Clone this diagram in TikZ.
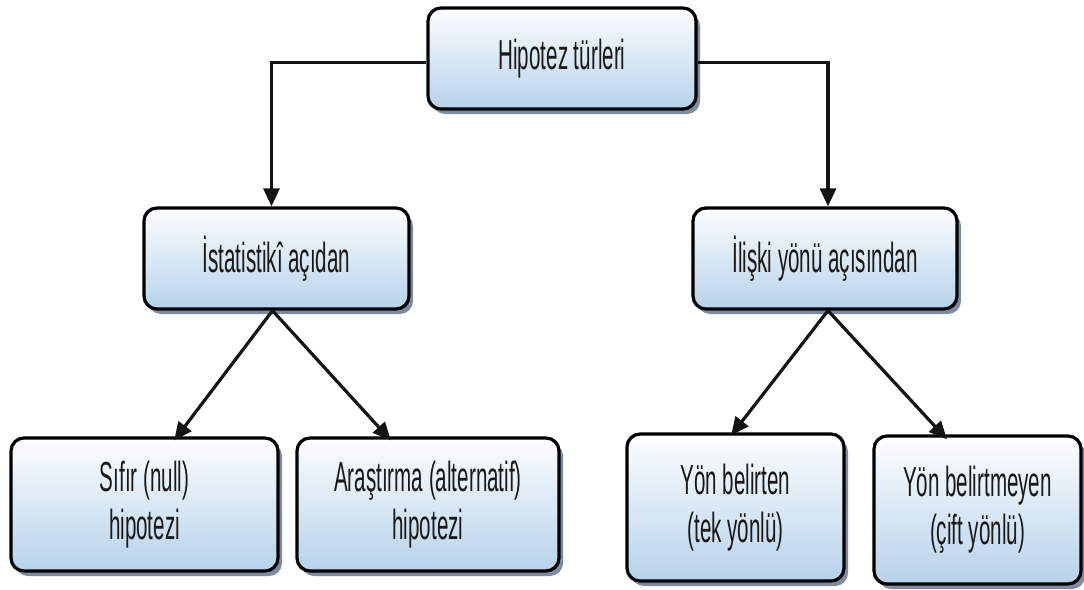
\documentclass[tikz,border=0pt]{standalone}
\usepackage{fontspec}
\setmainfont{Liberation Sans}[FakeStretch=0.49]
\usetikzlibrary{arrows.meta,shadows,calc}

\definecolor{boxtop}{RGB}{253,254,255}
\definecolor{boxbottom}{RGB}{182,210,234}
\definecolor{shadowcol}{RGB}{112,126,150}
\definecolor{textcol}{RGB}{25,25,25}

\begin{document}
\begin{tikzpicture}[x=1pt,y=-1pt,
  hbox/.style={draw=black, line width=3.2pt, rounded corners=13pt,
    top color=boxtop, bottom color=boxbottom,
    drop shadow={shadow xshift=4pt, shadow yshift=-5pt, fill=shadowcol, opacity=0.9},
    text=textcol, align=center, inner sep=0pt,
    font=\fontsize{42}{48}\selectfont},
  link/.style={draw=black!92, line width=3.2pt,
    -{Triangle[length=18pt,width=16pt]}}
]
\useasboundingbox (0,0) rectangle (1084,589);

% boxes (centre, width, height)
\node[hbox, minimum width=268pt, minimum height=101pt] (top) at (562,58.5) {Hipotez türleri};
\node[hbox, minimum width=265pt, minimum height=101pt] (ist) at (276.5,258.5) {İstatistikî açıdan};
\node[hbox, minimum width=264pt, minimum height=101pt] (ili) at (825,258.5) {İlişki yönü açısından};
\node[hbox, minimum width=267pt, minimum height=133pt] (sif) at (144.5,504.5) {Sıfır (null)\\hipotezi};
\node[hbox, minimum width=262pt, minimum height=133pt] (ara) at (428,504.5) {Araştırma (alternatif)\\hipotezi};
\node[hbox, minimum width=217pt, minimum height=147pt] (yb) at (735.5,507.5) {Yön belirten\\(tek yönlü)};
\node[hbox, minimum width=207pt, minimum height=148pt] (ybm) at (977.5,510) {Yön belirtmeyen\\(çift yönlü)};

% connectors
\draw[link] ([yshift=-4pt]top.west) -| ([xshift=-5pt]ist.north);
\draw[link] ([yshift=-4pt]top.east) -| ([xshift=3pt]ili.north);
\draw[link] ([xshift=-4pt]ist.south) -- ([yshift=-4pt]$(sif.north west)!0.61!(sif.north east)$);
\draw[link] ([xshift=-4pt]ist.south) -- ([yshift=-4pt]$(ara.north west)!0.36!(ara.north east)$);
\draw[link] ([xshift=3pt]ili.south) -- ([yshift=-3pt]$(yb.north west)!0.48!(yb.north east)$);
\draw[link] ([xshift=3pt]ili.south) -- ([yshift=-5pt]$(ybm.north west)!0.355!(ybm.north east)$);
\end{tikzpicture}
\end{document}
